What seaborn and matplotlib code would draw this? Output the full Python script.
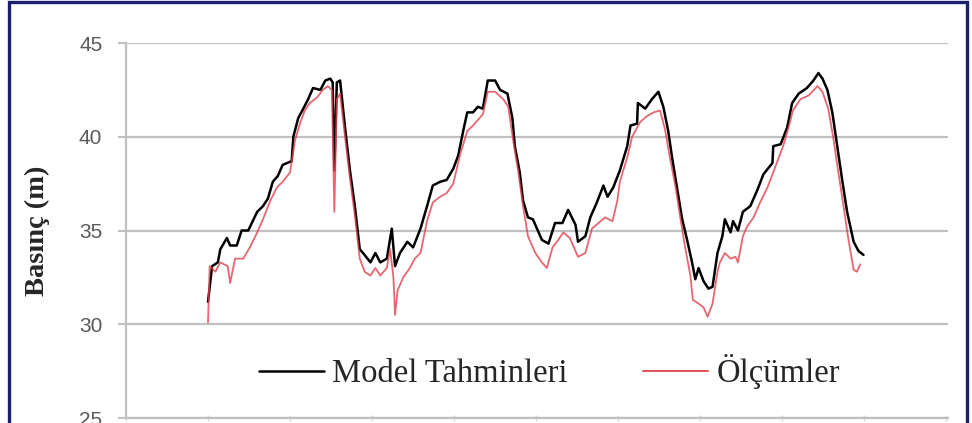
import numpy as np
import pandas as pd
import seaborn as sns
import matplotlib
matplotlib.use("Agg")
import matplotlib.pyplot as plt
from matplotlib.patches import Rectangle

# Model Tahminleri (black)
model_x = [1.00, 1.05, 1.12, 1.15, 1.23, 1.27, 1.35, 1.41, 1.49, 1.60, 1.67, 1.73, 1.79, 1.85,
           1.91, 2.02, 2.04, 2.10, 2.15, 2.22, 2.28, 2.37, 2.43, 2.49, 2.52, 2.54, 2.57, 2.61,
           2.67, 2.73, 2.79, 2.85, 2.89, 2.98, 3.04, 3.10, 3.18, 3.24, 3.28, 3.34, 3.43, 3.50,
           3.59, 3.67, 3.74, 3.83, 3.91, 3.99, 4.05, 4.11, 4.16, 4.23, 4.29, 4.35, 4.41, 4.50,
           4.56, 4.65, 4.71, 4.74, 4.80, 4.84, 4.90, 4.96, 5.07, 5.15, 5.23, 5.32, 5.39, 5.48,
           5.51, 5.60, 5.66, 5.74, 5.82, 5.87, 5.94, 6.02, 6.11, 6.15, 6.23, 6.24, 6.33, 6.41,
           6.49, 6.55, 6.61, 6.66, 6.72, 6.78, 6.84, 6.90, 6.94, 6.98, 7.04, 7.10, 7.15, 7.21,
           7.27, 7.30, 7.37, 7.40, 7.46, 7.52, 7.61, 7.70, 7.77, 7.88, 7.89, 7.98, 8.06, 8.12,
           8.20, 8.30, 8.38, 8.44, 8.49, 8.55, 8.61, 8.67, 8.73, 8.79, 8.87, 8.93, 8.99]
model_y = [31.2, 33.1, 33.3, 34.0, 34.6, 34.2, 34.2, 35.0, 35.0, 36.0, 36.3, 36.7, 37.6, 37.9,
           38.5, 38.7, 40.0, 41.0, 41.4, 42.0, 42.6, 42.5, 43.0, 43.1, 42.9, 38.2, 42.9, 43.0,
           40.5, 38.2, 36.3, 34.0, 33.8, 33.3, 33.8, 33.3, 33.5, 35.1, 33.1, 33.8, 34.4, 34.1,
           35.1, 36.3, 37.4, 37.6, 37.7, 38.3, 39.0, 40.3, 41.3, 41.3, 41.6, 41.5, 43.0, 43.0,
           42.5, 42.3, 41.0, 39.5, 38.1, 36.6, 35.7, 35.6, 34.5, 34.3, 35.4, 35.4, 36.1, 35.3,
           34.4, 34.7, 35.7, 36.5, 37.4, 36.8, 37.3, 38.2, 39.5, 40.6, 40.7, 41.8, 41.5, 42.0,
           42.4, 41.6, 40.3, 38.8, 37.2, 35.6, 34.5, 33.3, 32.4, 33.0, 32.3, 31.9, 32.0, 33.8,
           34.7, 35.6, 34.9, 35.5, 35.0, 36.0, 36.3, 37.2, 38.0, 38.6, 39.5, 39.6, 40.5, 41.8,
           42.3, 42.6, 43.0, 43.4, 43.1, 42.5, 41.3, 39.5, 37.7, 36.0, 34.4, 33.9, 33.7]

# Ölçümler (red)
meas_x = [1.00, 1.02, 1.09, 1.15, 1.24, 1.27, 1.33, 1.43, 1.51, 1.60, 1.67, 1.76, 1.84, 1.91,
          2.00, 2.06, 2.12, 2.18, 2.24, 2.33, 2.40, 2.46, 2.51, 2.54, 2.57, 2.61, 2.67, 2.73,
          2.79, 2.85, 2.91, 2.98, 3.04, 3.10, 3.18, 3.22, 3.26, 3.28, 3.31, 3.38, 3.46, 3.52,
          3.59, 3.67, 3.74, 3.83, 3.91, 3.99, 4.07, 4.16, 4.23, 4.35, 4.41, 4.50, 4.60, 4.66,
          4.72, 4.78, 4.84, 4.90, 4.99, 5.07, 5.13, 5.20, 5.27, 5.33, 5.41, 5.51, 5.60, 5.68,
          5.76, 5.84, 5.93, 5.99, 6.02, 6.11, 6.17, 6.27, 6.35, 6.43, 6.51, 6.57, 6.63, 6.70,
          6.76, 6.82, 6.88, 6.91, 6.98, 7.04, 7.09, 7.15, 7.21, 7.24, 7.30, 7.37, 7.43, 7.46,
          7.52, 7.57, 7.65, 7.73, 7.82, 7.89, 7.95, 8.01, 8.07, 8.13, 8.22, 8.32, 8.43, 8.49,
          8.56, 8.62, 8.68, 8.74, 8.80, 8.87, 8.91, 8.95]
meas_y = [30.1, 33.1, 32.8, 33.3, 33.1, 32.2, 33.5, 33.5, 34.1, 34.9, 35.6, 36.6, 37.3, 37.6,
          38.1, 39.8, 40.7, 41.4, 41.8, 42.1, 42.5, 42.7, 42.5, 36.0, 42.0, 42.3, 40.0, 37.8,
          35.8, 33.5, 32.8, 32.6, 33.0, 32.6, 33.0, 34.0, 32.5, 30.5, 31.8, 32.5, 33.0, 33.5,
          33.8, 35.5, 36.5, 36.8, 37.0, 37.5, 39.0, 40.3, 40.6, 41.2, 42.4, 42.4, 42.0, 41.6,
          39.8, 38.2, 36.3, 34.7, 33.8, 33.3, 33.0, 34.1, 34.5, 34.9, 34.6, 33.6, 33.8, 35.1,
          35.4, 35.7, 35.5, 36.6, 37.6, 38.9, 40.0, 40.8, 41.1, 41.3, 41.4, 40.4, 38.9, 37.3,
          35.6, 34.0, 32.6, 31.3, 31.1, 30.9, 30.4, 31.1, 32.8, 33.3, 33.8, 33.5, 33.6, 33.3,
          34.7, 35.2, 35.7, 36.5, 37.3, 38.1, 38.8, 39.5, 40.4, 41.4, 42.0, 42.2, 42.7, 42.4,
          41.5, 40.0, 38.2, 36.5, 34.7, 32.9, 32.8, 33.2]

y_ticks = [25, 30, 35, 40, 45]

sns.set_style("white")
plt.rcParams['font.family'] = ['Liberation Serif', 'DejaVu Serif']

model_df = pd.DataFrame({'x': model_x, 'y': model_y})
meas_df = pd.DataFrame({'x': meas_x, 'y': meas_y})

fig = plt.figure(figsize=(9.72, 4.23), dpi=100)
ax = fig.add_axes([0.1296, 0.0118, 0.8457, 0.8865])

grid_c = '#c0c0c0'
sns.lineplot(data=model_df, x='x', y='y', ax=ax, color='black', lw=1.8,
             sort=False, estimator=None, label='Model Tahminleri')
sns.lineplot(data=meas_df, x='x', y='y', ax=ax, color='#e0404e', lw=1.3, alpha=0.8,
             sort=False, estimator=None, label='Ölçümler')

ax.set_xlim(0, 10.02)
ax.set_ylim(25, 45)
ax.set_yticks(y_ticks)
ax.set_xticks(range(0, 11))
ax.set_xticklabels([])
ax.set_xlabel('')
for t in ax.get_yticklabels():
    t.set_family(['Liberation Sans', 'DejaVu Sans'])
ax.tick_params(axis='y', length=6, width=1.5, color=grid_c, labelsize=15,
               labelcolor='#5a5a5a', pad=11, left=True)
ax.tick_params(axis='x', length=5, width=1.0, color='#d8d8d8', direction='inout', bottom=True)
ax.yaxis.grid(True, color=grid_c, lw=1.6)
ax.set_axisbelow(True)
for s in ['top', 'right']:
    ax.spines[s].set_visible(False)
for s in ['left', 'bottom']:
    ax.spines[s].set_color(grid_c)
    ax.spines[s].set_linewidth(1.6)

ax.set_ylabel('Basınç (m)', fontsize=20.5, fontweight='bold')
ax.yaxis.set_label_coords(-0.093, 0.5)

leg = ax.legend(loc='center', bbox_to_anchor=(0.515, 0.123), ncol=2, fontsize=23.5,
                frameon=True, facecolor='white', edgecolor='none', framealpha=1,
                handlelength=2.0, handletextpad=0.25, columnspacing=2.3,
                borderpad=0.1)
for h in leg.get_lines():
    h.set_alpha(1)

fig.patches.append(Rectangle((0.009, -0.02), 0.986, 1.015, transform=fig.transFigure,
                             fill=False, edgecolor='#1b1f6e', lw=2.4))

plt.savefig('out.png', dpi=100)
